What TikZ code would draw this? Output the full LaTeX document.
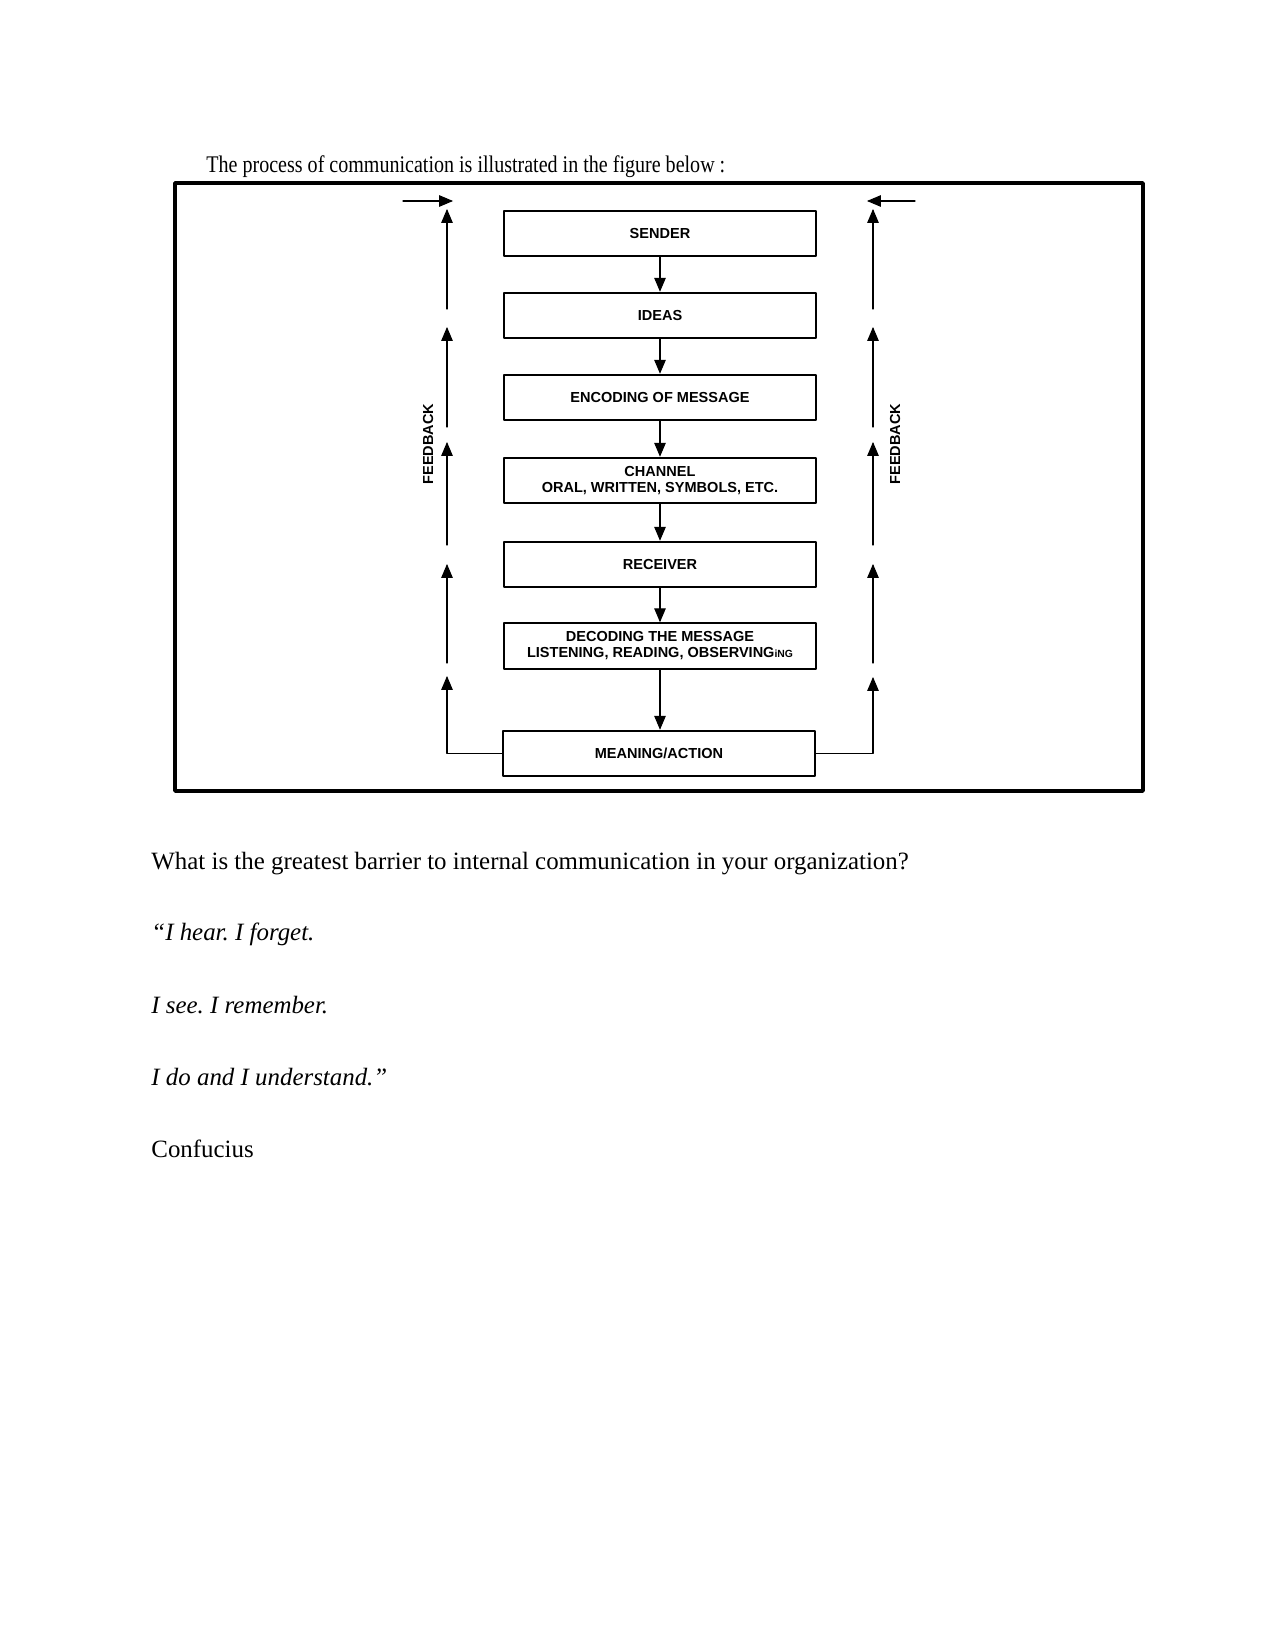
\documentclass[tikz,border=0pt]{standalone}
\usepackage{fontspec}
\setmainfont{Liberation Serif}
\newfontfamily\labelsans{Liberation Sans}
\usetikzlibrary{arrows}
\frenchspacing

\tikzset{
  stepbox/.style={draw,line width=0.9pt,minimum width=150.5pt,minimum height=22pt,inner sep=0pt,
    align=center,font=\labelsans\bfseries\fontsize{7}{7.7}\selectfont},
  flow/.style={->,line width=0.5pt},
  fbtext/.style={font=\labelsans\bfseries\fontsize{7}{8}\selectfont,rotate=90,inner sep=0pt},
  bodytext/.style={anchor=base west,inner sep=0pt,font=\fontsize{12}{14}\selectfont}
}

\begin{document}
\begin{tikzpicture}[x=0.0169333cm,y=-0.0169333cm,line cap=round,line join=round,>=triangle 45]
\useasboundingbox (0,0) rectangle (1275,1651);
% heading and frame
\node[anchor=base west,inner sep=0pt] (head) at (206,172)
  {\scalebox{0.84}[1]{\fontsize{11.5}{13}\selectfont The process of communication is illustrated in the figure below :}};
\draw[line width=1.8pt] (175,183) rectangle (1143,791);
% the steps
\node[stepbox] (sender) at (660,233.5) {SENDER};
\node[stepbox] (ideas) at (660,315.5) {IDEAS};
\node[stepbox] (encoding) at (660,397.5) {ENCODING OF MESSAGE};
\node[stepbox] (channel) at (660,480.5) {CHANNEL\\ORAL, WRITTEN, SYMBOLS, ETC.};
\node[stepbox] (receiver) at (660,564.5) {RECEIVER};
\node[stepbox] (decoding) at (660,646) {DECODING THE MESSAGE\\LISTENING, READING, OBSERVING{\fontsize{5}{6}\selectfont iNG}};
\node[stepbox] (meaning) at (659,753.5) {MEANING/ACTION};
\draw[flow] (sender) -- (ideas);
\draw[flow] (ideas) -- (encoding);
\draw[flow] (encoding) -- (channel);
\draw[flow] (channel) -- (receiver);
\draw[flow] (receiver) -- (decoding);
\draw[flow] (decoding.south) -- (meaning.north-|decoding.south);
% feedback on both sides
\draw[flow] (meaning.west) -| (447,676);
\draw[flow] (meaning.east) -| (873,677);
\foreach \lo/\hi in {663/564,545/442,427/327,309/209}{
  \draw[flow] (447,\lo) -- (447,\hi);
  \draw[flow] (873,\lo) -- (873,\hi);
}
\draw[flow] (403,201) -- (453,201);
\draw[flow] (915,201) -- (867,201);
\node[fbtext] (fbleft) at (428,444) {FEEDBACK};
\node[fbtext] (fbright) at (895,444) {FEEDBACK};
% text under the figure
\node[bodytext] (question) at (151,869) {What is the greatest barrier to internal communication in your organization?};
\node[bodytext] (hear) at (151,940) {\itshape “I hear. I forget.};
\node[bodytext] (see) at (151,1013) {\itshape I see. I remember.};
\node[bodytext] (do) at (151,1085) {\itshape I do and I understand.”};
\node[bodytext] (author) at (151,1157) {Confucius};
\end{tikzpicture}
\end{document}
